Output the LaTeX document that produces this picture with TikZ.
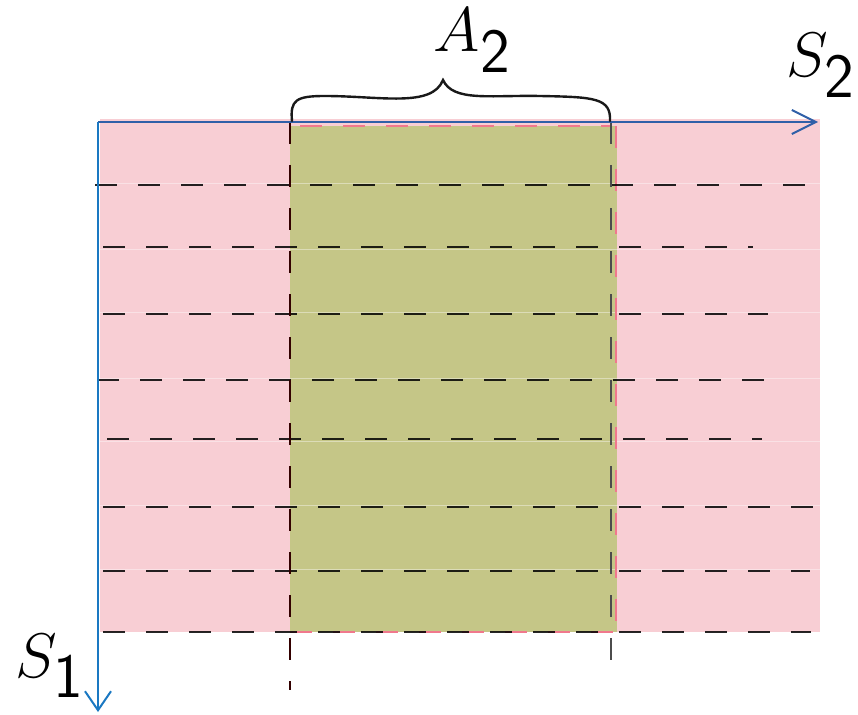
\RequirePackage{fix-cm}
\documentclass[tikz,border=0pt]{standalone}
\usetikzlibrary{arrows.meta}
\definecolor{pinkfill}{RGB}{248,206,212}
\definecolor{greenfill}{RGB}{197,198,135}
\definecolor{axisblueH}{RGB}{48,96,168}
\definecolor{axisblueV}{RGB}{26,120,194}
\definecolor{pinkdash}{RGB}{240,120,140}
\tikzset{
  gridline/.style={line width=2pt, draw=black, draw opacity=0.85, dash pattern=on 22pt off 21pt},
  vline/.style={line width=1.5pt, draw=black!70, dash pattern=on 22pt off 21pt},
  pinkline/.style={line width=2pt, draw=pinkdash, dash pattern=on 22pt off 21pt},
  axisH/.style={line width=2pt, draw=axisblueH, -{Straight Barb[length=24pt,width=24pt,line width=2pt]}},
  axisV/.style={line width=2pt, draw=axisblueV, -{Straight Barb[length=19pt,width=26pt,line width=2pt]}},
  bracestyle/.style={line width=2.4pt, draw=black!90, line cap=round},
  lbl/.style={inner sep=0pt, font=\fontsize{63}{76}\selectfont},
}
\begin{document}
\begin{tikzpicture}[x=1pt,y=-1pt]
\useasboundingbox (0,0) rectangle (858,714);
% regions
\fill[pinkfill] (100,119) rectangle (820,632);
\fill[greenfill] (290,126) rectangle (617,632);
% faint strip borders
\foreach \y in {183,249,312,378,441,505,569}
  \draw[white, line width=1pt, opacity=0.4] (100,\y) -- (820,\y);
% pink dashed borders of the green area
\draw[pinkline] (616,126) -- (616,632);
\draw[pinkline] (300,126) -- (612,126);
\draw[pinkline] (290,632) -- (616,632);
% horizontal dashed lines
\foreach \y/\xa/\xb in {185/95/810, 247/103/753, 314/103/768, 380/97/765, 439/107/762, 507/103/815, 571/103/810, 632/103/811}
  \draw[gridline] (\xa,\y) -- (\xb,\y);
% vertical dashed lines
\coordinate (L1) at (290,122);
\coordinate (L2) at (290,690);
\coordinate (R1) at (611,122);
\coordinate (R2) at (611,662);
\draw[vline, draw=black!80!red] (L1) -- (L2);
\draw[vline] (R1) -- (R2);
% axes
\coordinate (O) at (98,122);
\coordinate (X) at (818,122);
\coordinate (Y) at (98,712);
\draw[axisH] (O) -- (X);
\draw[axisV] (O) -- (Y);
% brace
\coordinate (B1) at (292,121);
\coordinate (Bt) at (443,80);
\coordinate (B2) at (610,121);
\draw[bracestyle] (B1) .. controls (290,100) and (296,96) .. (325,96)
  .. controls (380,96) and (432,108) .. (Bt)
  .. controls (453,102) and (490,95) .. (540,96)
  .. controls (595,97) and (611,98) .. (B2);
% labels
\node[lbl, anchor=base] (A2) at (472,52) {$A_{\textsf{2}}$};
\node[lbl, anchor=base] (S2) at (821,77) {$S_{\textsf{2}}$};
\node[lbl, anchor=base] (S1) at (50,677) {$S_{\textsf{1}}$};
\end{tikzpicture}
\end{document}
